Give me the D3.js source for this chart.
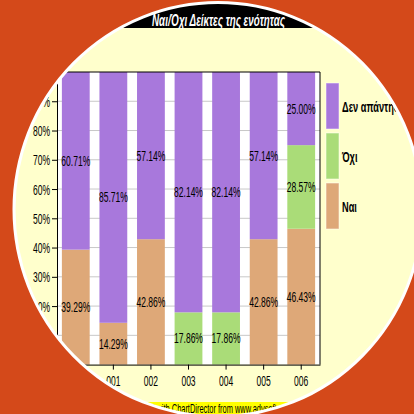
<!DOCTYPE html>
<html><head><meta charset="utf-8">
<script src="https://cdn.jsdelivr.net/npm/d3@7"></script>
<style>html,body{margin:0;padding:0;background:#D4491A;}svg{display:block;}</style>
</head><body>
<script>
const categories = ["000","001","002","003","004","005","006"];
const seriesNames = ["Ναι","Όχι","Δεν απάντησαν"];
const naiValues = [39.29, 14.29, 42.86, 0, 0, 42.86, 46.43];
const oxiValues = [0, 0, 0, 17.86, 17.86, 0, 28.57];
const denValues = [60.71, 85.71, 57.14, 82.14, 82.14, 57.14, 25.00];
const seriesColors = ["#DEA878", "#AADC78", "#A878DC"];
const yTicks = [0,10,20,30,40,50,60,70,80,90,100];
const titleText = "Ναι/Όχι Δείκτες της ενότητας";

const W = 414, H = 414;
const SX = 0.61; // horizontal text compression
const svg = d3.select("body").append("svg").attr("width", W).attr("height", H);
svg.append("rect").attr("width", W).attr("height", H).attr("fill", "#D4491A");

const ell = {cx: 218, cy: 209.5, rx: 204, ry: 207};
svg.append("clipPath").attr("id", "clip").append("ellipse")
  .attr("cx", ell.cx).attr("cy", ell.cy).attr("rx", ell.rx).attr("ry", ell.ry);

const g = svg.append("g").attr("clip-path", "url(#clip)");
g.append("rect").attr("width", W).attr("height", H).attr("fill", "#FFFFCC");

const font = "Liberation Sans, Arial, sans-serif";

// title bar
g.append("rect").attr("x", 0).attr("y", 0).attr("width", W).attr("height", 28).attr("fill", "#000");
const title = g.append("text").attr("text-anchor", "middle").attr("fill", "#fff")
  .style("font-family", font).style("font-size", "17px")
  .style("font-style", "italic").style("font-weight", "bold").text(titleText);
const tl = title.node().getComputedTextLength();
title.attr("transform", `translate(218.5,25.5) scale(${133 / tl},1)`);

const plot = {left: 57, right: 320, top: 72, bottom: 364.6};
const x = d3.scaleBand().domain(categories).range([plot.left, plot.right]).paddingInner(0.26).paddingOuter(0.13);
const y = d3.scaleLinear().domain([0, 100]).range([plot.bottom, plot.top]);

g.append("rect").attr("x", plot.left).attr("y", plot.top)
  .attr("width", plot.right - plot.left).attr("height", plot.bottom - plot.top).attr("fill", "#fff");

// grid
g.append("g").selectAll("line").data(yTicks.filter(t => t > 0 && t < 100)).join("line")
  .attr("x1", plot.left).attr("x2", plot.right)
  .attr("y1", d => y(d)).attr("y2", d => y(d))
  .attr("stroke", "#C8C8C8").attr("stroke-width", 1);

// stacked data
const rows = categories.map((c, i) => ({cat: c, "Ναι": naiValues[i], "Όχι": oxiValues[i], "Δεν απάντησαν": denValues[i]}));
const stack = d3.stack().keys(seriesNames)(rows);

stack.forEach((layer, li) => {
  const lg = g.append("g");
  lg.selectAll("rect").data(layer.filter(d => d[1] - d[0] > 0)).join("rect")
    .attr("x", d => x(d.data.cat)).attr("width", x.bandwidth())
    .attr("y", d => y(d[1])).attr("height", d => y(d[0]) - y(d[1]))
    .attr("fill", seriesColors[li]);
});
stack.forEach((layer) => {
  g.append("g").selectAll("text").data(layer.filter(d => d[1] - d[0] > 0)).join("text")
    .attr("transform", d => `translate(${x(d.data.cat) + x.bandwidth() / 2},${y((d[0] + d[1]) / 2) + 5}) scale(${SX},1)`)
    .attr("text-anchor", "middle").attr("fill", "#000")
    .style("font-family", font).style("font-size", "14px")
    .text(d => (d[1] - d[0]).toFixed(2) + "%");
});

// plot border (top, right)
g.append("line").attr("x1", plot.left).attr("x2", plot.right).attr("y1", plot.top).attr("y2", plot.top).attr("stroke", "#000");
g.append("line").attr("x1", plot.right).attr("x2", plot.right).attr("y1", plot.top).attr("y2", plot.bottom).attr("stroke", "#000");

// axes
const yAxis = g.append("g").attr("transform", `translate(${plot.left},0)`)
  .call(d3.axisLeft(y).tickValues(yTicks).tickFormat(d => d + "%").tickSize(5).tickSizeOuter(0));
yAxis.selectAll("text").attr("x", null).attr("dy", null)
  .attr("transform", `translate(-7,5) scale(${SX},1)`)
  .style("font-family", font).style("font-size", "14px").attr("fill", "#000");
yAxis.select(".domain").attr("stroke", "#000");

const xAxis = g.append("g").attr("transform", `translate(0,${plot.bottom})`)
  .call(d3.axisBottom(x).tickSize(5).tickSizeOuter(0));
xAxis.selectAll("text").attr("y", null).attr("dy", null)
  .attr("transform", `translate(0,21) scale(${SX},1)`)
  .style("font-family", font).style("font-size", "14px").attr("fill", "#000");
xAxis.select(".domain").attr("stroke", "#000");

// legend
const legendItems = [2, 1, 0];
const lgd = g.append("g");
legendItems.forEach((si, k) => {
  const top = 83 + k * 50;
  lgd.append("rect").attr("x", 326).attr("y", top).attr("width", 13).attr("height", 46)
    .attr("fill", seriesColors[si]).attr("stroke", "#fff").attr("stroke-opacity", 0.5);
  lgd.append("text").attr("transform", `translate(342,${top + 29}) scale(0.66,1)`)
    .style("font-family", font).style("font-size", "14px").style("font-weight", "bold")
    .attr("fill", "#000").text(seriesNames[si]);
});

// watermark
g.append("rect").attr("x", 110).attr("y", 402).attr("width", 230).attr("height", 14).attr("fill", "#FFFF00");
g.append("text").attr("transform", `translate(128,413) scale(0.62,1)`)
  .style("font-family", font).style("font-size", "12px").attr("fill", "#000")
  .text("Created with ChartDirector from www.advsofteng.com");

// ring
svg.append("ellipse").attr("cx", ell.cx).attr("cy", ell.cy).attr("rx", ell.rx).attr("ry", ell.ry)
  .attr("fill", "none").attr("stroke", "#fff").attr("stroke-width", 3);
</script>
</body></html>
